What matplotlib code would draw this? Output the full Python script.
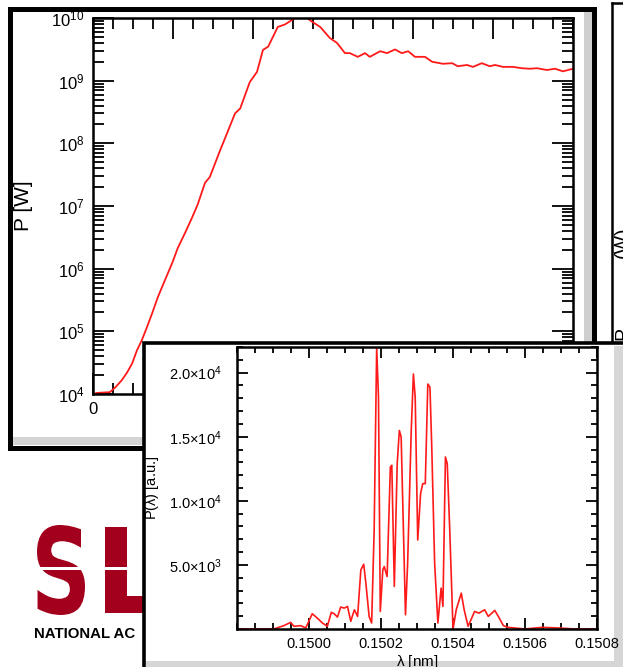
import numpy as np
import matplotlib
matplotlib.use('Agg')
import matplotlib.pyplot as plt
from matplotlib.patches import Rectangle, PathPatch
from matplotlib.textpath import TextPath
from matplotlib.font_manager import FontProperties
from matplotlib.transforms import Affine2D
from matplotlib.ticker import MultipleLocator, LogLocator, FixedLocator, NullFormatter, FixedFormatter

plt.rcParams['font.family'] = ['Liberation Sans', 'DejaVu Sans']
plt.rcParams['mathtext.default'] = 'regular'

# FEL power along the undulator
z = [0.0, 0.5, 2.1, 2.75, 3.6, 4.25, 4.9, 5.5, 6.1, 6.75, 7.4, 8.1, 9.0, 9.9, 10.6,
     11.5, 12.4, 13.1, 14.0, 14.6, 15.9, 16.5, 17.75, 18.4, 19.6, 20.5, 21.25, 21.9,
     23.1, 24.0, 25.25, 26.75, 27.4, 28.4, 29.6, 30.5, 31.5, 32.1, 33.1, 34.0, 34.6,
     35.9, 36.75, 37.75, 38.6, 39.4, 40.25, 41.5, 42.4, 43.75, 44.9, 45.6, 46.75, 47.5,
     48.6, 49.6, 50.25, 51.25, 52.5, 53.6, 54.6, 55.5, 56.75, 57.75, 58.75, 60.0]
power = [1.0e4, 1.04e4, 1.07e4, 1.26e4, 1.66e4, 2.19e4, 3.09e4, 5.0e4, 7.2e4, 1.17e5,
         1.95e5, 3.5e5, 6.6e5, 1.23e6, 2.14e6, 3.7e6, 6.6e6, 1.07e7, 2.34e7, 2.9e7,
         7.8e7, 1.2e8, 3.0e8, 3.6e8, 9.5e8, 1.38e9, 3.1e9, 3.5e9, 7.2e9, 7.9e9, 1.0e10,
         1.0e10, 8.7e9, 7.2e9, 4.8e9, 4.0e9, 2.75e9, 2.75e9, 2.4e9, 2.75e9, 2.4e9,
         2.95e9, 2.75e9, 3.15e9, 2.75e9, 2.95e9, 2.4e9, 2.4e9, 2.0e9, 1.86e9, 1.9e9,
         1.7e9, 1.78e9, 1.66e9, 1.9e9, 1.7e9, 1.78e9, 1.66e9, 1.66e9, 1.58e9, 1.55e9,
         1.58e9, 1.48e9, 1.55e9, 1.41e9, 1.55e9]

# output spectrum
lam = [0.14980, 0.149902, 0.149930, 0.149949, 0.149958, 0.149977, 0.149991, 0.150009,
       0.150023, 0.150037, 0.150051, 0.150062, 0.150070, 0.150079, 0.150088, 0.150098,
       0.150107, 0.150116, 0.150126, 0.150135, 0.150144, 0.150152, 0.150158, 0.150167,
       0.150174, 0.150181, 0.150188, 0.150193, 0.150198, 0.150205, 0.150209, 0.150217,
       0.150226, 0.150230, 0.150237, 0.150245, 0.150251, 0.150256, 0.150268, 0.150274,
       0.150284, 0.150290, 0.150295, 0.150302, 0.150310, 0.150316, 0.150323, 0.150330,
       0.150336, 0.150341, 0.150349, 0.150358, 0.150367, 0.150372, 0.150379, 0.150384,
       0.150391, 0.150400, 0.150409, 0.150423, 0.150431, 0.150442, 0.150460, 0.150472,
       0.150488, 0.150498, 0.150516, 0.150526, 0.150540, 0.150553, 0.150600, 0.150647,
       0.150693, 0.150740, 0.150807]
spec = [0, 0, 260, 520, 210, 260, 80, 1190, 855, 470, 210, 1300, 1190, 930, 1710, 1630,
        1760, 600, 1500, 980, 4610, 5050, 3570, 980, 470, 7720, 21960, 18080, 1370, 4610,
        4870, 4090, 12640, 12770, 3320, 12900, 15490, 14970, 1110, 5130, 15490, 19890,
        18080, 6940, 10570, 11340, 11340, 19110, 18860, 14190, 5130, 470, 3190, 1760,
        13420, 12900, 7720, 0, 1500, 2800, 1500, 210, 1370, 1240, 1500, 980, 1450, 980,
        260, 130, 0, 130, 80, 0, 0]

spec_yticks = [5000, 10000, 15000, 20000]
spec_ylabels = [r'$5.0{\times}10^3$', r'$1.0{\times}10^4$', r'$1.5{\times}10^4$', r'$2.0{\times}10^4$']
spec_xticks = [0.1500, 0.1502, 0.1504, 0.1506, 0.1508]
spec_xlabels = ['0.1500', '0.1502', '0.1504', '0.1506', '0.1508']

W, H = 623, 667
RED = '#ff1a1a'
fig = plt.figure(figsize=(W / 100, H / 100), dpi=100)


def px_box(x0, y0, x1, y1):
    return [x0 / W, 1 - y1 / H, (x1 - x0) / W, (y1 - y0) / H]


# slide background layer, pixel coordinates
bg = fig.add_axes([0, 0, 1, 1], zorder=0)
bg.set_xlim(0, W)
bg.set_ylim(H, 0)
bg.axis('off')
bg.add_patch(Rectangle((584, 12), 8, 433, color='#cfcfcf', lw=0))
bg.add_patch(Rectangle((13, 437), 579, 8, color='#d4d4d4', lw=0))
bg.add_patch(Rectangle((10, 9), 584, 439, fill=False, ec='black', lw=3.6))
bg.plot([612, 612], [3, 345], color='black', lw=1.8)
bg.plot([612, 630], [3, 3], color='black', lw=1.8)
bg.text(614, 242, '(W)', rotation=90, ha='left', va='center', fontsize=14)
bg.text(614, 334, 'P', rotation=90, ha='left', va='center', fontsize=14)

# SLAC logo fragment (the rest is hidden under the spectrum panel)
fp = FontProperties(family='DejaVu Sans', weight='bold')
logo_red = '#a3001e'
s_ext = TextPath((0, 0), 'S', size=1, prop=fp).get_extents()
for letter, x0, wpx in [('S', 37, 48), ('L', 105, 60)]:
    p = TextPath((0, 0), letter, size=1, prop=fp)
    pe = p.get_extents()
    tr = Affine2D().translate(-pe.x0, -s_ext.y0).scale(wpx / pe.width, -90 / s_ext.height).translate(x0, 615)
    bg.add_patch(PathPatch(tr.transform_path(p), color=logo_red, lw=0))
bg.add_patch(Rectangle((20, 566.5), 125, 3.5, color='white', lw=0))
bg.text(34, 634, 'NATIONAL AC', fontsize=10.8, fontweight='bold', va='center', ha='left')

# power gain curve
ax = fig.add_axes(px_box(93, 18, 573, 394), zorder=1)
ax.plot(z, power, color=RED, lw=1.3)
ax.set_yscale('log')
ax.set_xlim(0, 60)
ax.set_ylim(1e4, 1e10)
ax.xaxis.set_major_locator(MultipleLocator(10))
ax.xaxis.set_minor_locator(MultipleLocator(2.5))
ax.yaxis.set_major_locator(LogLocator(base=10, numticks=10))
ax.yaxis.set_minor_locator(LogLocator(base=10, subs=np.arange(2, 10), numticks=20))
ax.yaxis.set_minor_formatter(NullFormatter())
ax.tick_params(which='both', direction='in', top=True, right=True, labelsize=12, width=1.3)
ax.tick_params(which='major', length=15, pad=6)
ax.tick_params(which='minor', length=8)
for s in ax.spines.values():
    s.set_linewidth(1.8)
ax.set_ylabel('P [W]', fontsize=15)
ax.yaxis.set_label_coords(-0.125, 0.5)

# spectrum inset panel
ov = fig.add_axes([0, 0, 1, 1], zorder=2)
ov.set_xlim(0, W)
ov.set_ylim(H, 0)
ov.axis('off')
ov.add_patch(Rectangle((144, 343), 500, 340, fc='white', ec='black', lw=2.6))
ov.add_patch(Rectangle((614, 346), 9, 321, color='#d6d6d6', lw=0))
ov.add_patch(Rectangle((146, 661), 477, 6, color='#d6d6d6', lw=0))

ax2 = fig.add_axes(px_box(237, 347, 597, 629), zorder=3)
ax2.plot(lam, spec, color=RED, lw=1.2)
ax2.set_xlim(0.1498, 0.1508)
ax2.set_ylim(0, 22000)
ax2.xaxis.set_major_locator(FixedLocator(spec_xticks))
ax2.xaxis.set_major_formatter(FixedFormatter(spec_xlabels))
ax2.xaxis.set_minor_locator(MultipleLocator(0.00005))
ax2.yaxis.set_major_locator(FixedLocator(spec_yticks))
ax2.yaxis.set_major_formatter(FixedFormatter(spec_ylabels))
ax2.yaxis.set_minor_locator(MultipleLocator(1000))
ax2.tick_params(which='both', direction='in', top=True, right=True, labelsize=10.5, width=1.3)
ax2.tick_params(which='major', length=8, pad=6)
ax2.tick_params(which='minor', length=4.5)
ax2.tick_params(axis='y', which='major', pad=11)
for s in ax2.spines.values():
    s.set_linewidth(1.8)
ax2.set_ylabel(r'P($\lambda$) [a.u.]', fontsize=10.5)
ax2.yaxis.set_label_coords(-0.212, 0.5)
ax2.set_xlabel(r'$\lambda$ [nm]', fontsize=11)
ax2.xaxis.set_label_coords(0.5, -0.085)

fig.savefig('out.png', dpi=100)
